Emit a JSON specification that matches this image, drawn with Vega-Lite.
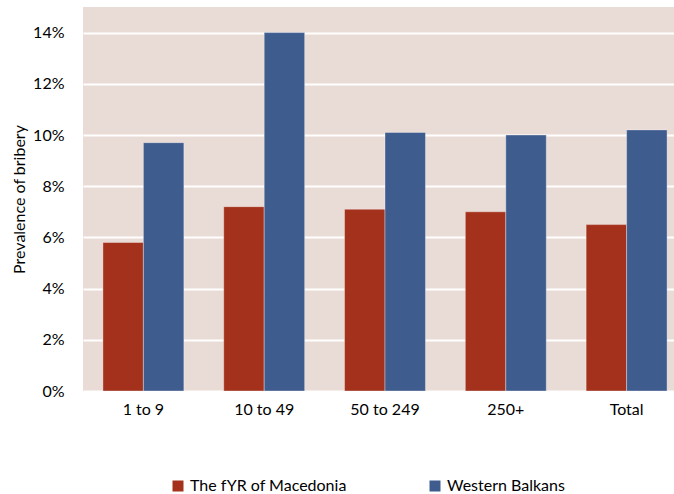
{
  "$schema": "https://vega.github.io/schema/vega-lite/v6.json",
  "width": 604,
  "height": 384,
  "autosize": {"type": "none"},
  "padding": {"left": 83, "top": 7, "right": 0, "bottom": 103},
  "background": "white",
  "config": {
    "font": "Lato",
    "view": {"fill": "#E9DBD5", "stroke": null}
  },
  "data": {
    "values": [
      {"size": "1 to 9", "region": "The fYR of Macedonia", "value": 0.058},
      {"size": "1 to 9", "region": "Western Balkans", "value": 0.097},
      {"size": "10 to 49", "region": "The fYR of Macedonia", "value": 0.072},
      {"size": "10 to 49", "region": "Western Balkans", "value": 0.140},
      {"size": "50 to 249", "region": "The fYR of Macedonia", "value": 0.071},
      {"size": "50 to 249", "region": "Western Balkans", "value": 0.101},
      {"size": "250+", "region": "The fYR of Macedonia", "value": 0.070},
      {"size": "250+", "region": "Western Balkans", "value": 0.100},
      {"size": "Total", "region": "The fYR of Macedonia", "value": 0.065},
      {"size": "Total", "region": "Western Balkans", "value": 0.102}
    ]
  },
  "mark": {"type": "bar", "stroke": "#ffffff", "strokeOpacity": 0.35, "strokeWidth": 1},
  "encoding": {
    "x": {
      "field": "size",
      "type": "nominal",
      "sort": ["1 to 9", "10 to 49", "50 to 249", "250+", "Total"],
      "scale": {"paddingInner": 0.33, "paddingOuter": 0.165},
      "axis": {
        "title": null,
        "labelAngle": 0,
        "labelFont": "Lato",
        "labelFontSize": 16,
        "labelColor": "#000000",
        "labelPadding": 10,
        "domain": false,
        "ticks": false
      }
    },
    "xOffset": {
      "field": "region",
      "type": "nominal",
      "sort": ["The fYR of Macedonia", "Western Balkans"],
      "scale": {"paddingInner": 0, "paddingOuter": 0}
    },
    "y": {
      "field": "value",
      "type": "quantitative",
      "scale": {"domain": [0, 0.15], "nice": false},
      "axis": {
        "title": "Prevalence of bribery",
        "titleFont": "Lato",
        "titleFontSize": 16,
        "titleFontWeight": "normal",
        "titleColor": "#000000",
        "titlePadding": 5,
        "format": ".0%",
        "values": [0, 0.02, 0.04, 0.06, 0.08, 0.1, 0.12, 0.14],
        "labelFont": "Lato",
        "labelFontSize": 16,
        "labelColor": "#000000",
        "labelPadding": 19,
        "domain": false,
        "ticks": false,
        "grid": true,
        "gridColor": "#ffffff",
        "gridWidth": 2
      }
    },
    "color": {
      "field": "region",
      "type": "nominal",
      "sort": ["The fYR of Macedonia", "Western Balkans"],
      "scale": {
        "domain": ["The fYR of Macedonia", "Western Balkans"],
        "range": ["#A3311C", "#3F5C8E"]
      },
      "legend": {
        "title": null,
        "orient": "none",
        "legendX": 87,
        "legendY": 471,
        "direction": "horizontal",
        "symbolType": "square",
        "symbolSize": 121,
        "symbolStrokeWidth": 0,
        "symbolOffset": 0,
        "labelFont": "Lato",
        "labelFontSize": 16,
        "labelColor": "#000000",
        "labelOffset": 4,
        "columnPadding": 80
      }
    }
  }
}
